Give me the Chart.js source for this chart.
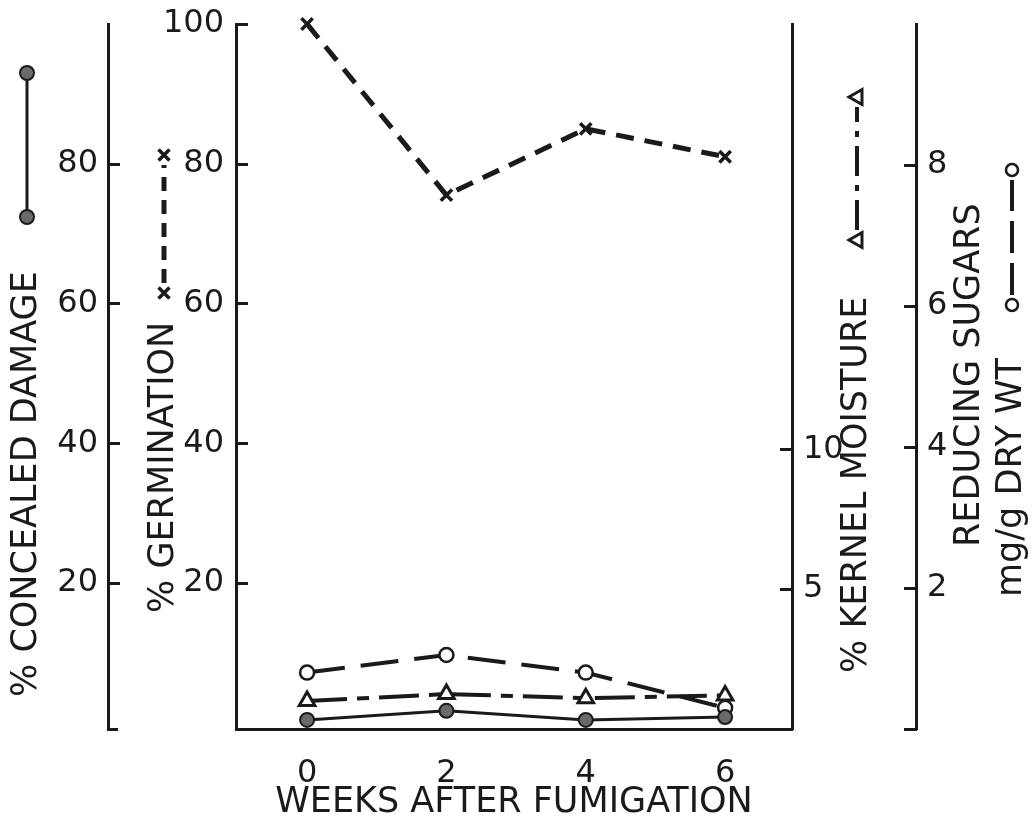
<!DOCTYPE html>
<html>
<head>
<meta charset="utf-8">
<script src="https://cdn.jsdelivr.net/npm/chart.js@4.4.1/dist/chart.umd.min.js"></script>
<style>
  html, body { margin: 0; padding: 0; background: #fff; }
  canvas { display: block; }
</style>
</head>
<body>
<canvas id="myChart" width="1032" height="819"></canvas>
<script>
// values
var weeks = [0, 2, 4, 6];
var damage = [0.4, 1.7, 0.4, 0.8];          // % concealed damage
var germination = [100, 75.5, 85, 81];      // % germination
var moisture = [1.0, 1.25, 1.1, 1.2];       // % kernel moisture
var sugars = [0.8, 1.05, 0.8, 0.3];         // reducing sugars mg/g dry wt

var damageTicks = [20, 40, 60, 80];
var germTicks = [20, 40, 60, 80, 100];
var moistTicks = [5, 10];
var sugarTicks = [2, 4, 6, 8];

var ink = '#1a1a1a';
var fam = '"DejaVu Sans", sans-serif';

function pts(vals) {
  return weeks.map(function (w, i) { return { x: w, y: vals[i] }; });
}

function yAxis(pos, weight, w, min, max, tickVals, pad) {
  return {
    type: 'linear',
    position: pos,
    weight: weight,
    min: min,
    max: max,
    afterBuildTicks: function (s) { s.ticks = tickVals.map(function (v) { return { value: v }; }); },
    afterFit: function (s) { s.width = w; s.paddingTop = 0; s.paddingBottom = 0; },
    grid: { display: false, drawTicks: false },
    border: { display: true, color: ink, width: 3 },
    ticks: { color: ink, padding: pad, font: { family: fam, size: 32 } }
  };
}

// rotated axis titles with their little key symbols
var titles = [
  { text: '% CONCEALED DAMAGE', x: 27, y: 697, mark: 'dot', from: 480, to: 624 },
  { text: '% GERMINATION', x: 164, y: 613, mark: 'x', from: 320, to: 458 },
  { text: '% KERNEL MOISTURE', x: 857, y: 673, mark: 'tri', from: 433, to: 576 },
  { text: 'REDUCING SUGARS', x: 970, y: 547 },
  { text: 'mg/g DRY WT', x: 1012, y: 597, mark: 'ring', from: 292, to: 427 }
];

function keyMark(ctx, kind, u) {
  ctx.setLineDash([]);
  ctx.beginPath();
  if (kind === 'dot') {
    ctx.lineWidth = 2;
    ctx.arc(u, 0, 7, 0, Math.PI * 2);
    ctx.fillStyle = '#6a6a6a';
    ctx.fill();
    ctx.stroke();
  } else if (kind === 'ring') {
    ctx.lineWidth = 2.5;
    ctx.arc(u, 0, 6, 0, Math.PI * 2);
    ctx.fillStyle = '#fff';
    ctx.fill();
    ctx.stroke();
  } else if (kind === 'x') {
    ctx.lineWidth = 3.5;
    ctx.moveTo(u - 5.5, -5.5); ctx.lineTo(u + 5.5, 5.5);
    ctx.moveTo(u - 5.5, 5.5); ctx.lineTo(u + 5.5, -5.5);
    ctx.stroke();
  } else if (kind === 'tri') {
    ctx.lineWidth = 3;
    ctx.moveTo(u, -8); ctx.lineTo(u + 7.5, 5); ctx.lineTo(u - 7.5, 5); ctx.closePath();
    ctx.fillStyle = '#fff';
    ctx.fill();
    ctx.stroke();
  }
}

var dashes = { dot: [], x: [14, 9], tri: [30, 9, 6, 9], ring: [32, 10] };
var widths = { dot: 3, x: 5, tri: 4, ring: 4 };

var decor = {
  id: 'decor',
  afterDraw: function (chart) {
    var ctx = chart.ctx, ca = chart.chartArea, sc = chart.scales;
    ctx.save();
    ctx.strokeStyle = ink;
    ctx.fillStyle = ink;
    ctx.lineWidth = 3;
    ctx.beginPath();
    // tick marks point inwards on every value axis
    ['yDamage', 'yGerm', 'yMoist', 'ySugar'].forEach(function (id) {
      var s = sc[id];
      var onLeft = s.options.position === 'left';
      var edge = onLeft ? s.right : s.left;
      var dir = onLeft ? 1 : -1;
      s.ticks.forEach(function (t) {
        var y = Math.round(s.getPixelForValue(t.value)) + 0.5;
        ctx.moveTo(edge, y);
        ctx.lineTo(edge + dir * 12, y);
      });
    });
    // little feet at the bottom of the outer axes
    ctx.moveTo(sc.yDamage.right - 1, ca.bottom + 0.5); ctx.lineTo(sc.yDamage.right + 10, ca.bottom + 0.5);
    ctx.moveTo(sc.ySugar.left - 12, ca.bottom + 0.5); ctx.lineTo(sc.ySugar.left + 1, ca.bottom + 0.5);
    ctx.stroke();

    titles.forEach(function (t) {
      ctx.save();
      ctx.translate(t.x, t.y);
      ctx.rotate(-Math.PI / 2);
      ctx.fillStyle = ink;
      ctx.font = '35px ' + fam;
      ctx.textAlign = 'left';
      ctx.textBaseline = 'middle';
      ctx.fillText(t.text, 0, 0);
      if (t.mark) {
        ctx.strokeStyle = ink;
        ctx.lineWidth = widths[t.mark];
        ctx.setLineDash(dashes[t.mark]);
        ctx.beginPath();
        if (t.mark === 'dot') {
          ctx.moveTo(t.from, 0); ctx.lineTo(t.to, 0);
        } else {
          ctx.moveTo(t.from + 10, 0); ctx.lineTo(t.to - 10, 0);
        }
        ctx.stroke();
        keyMark(ctx, t.mark, t.from);
        keyMark(ctx, t.mark, t.to);
      }
      ctx.restore();
    });
    ctx.restore();
  }
};

var ctx = document.getElementById('myChart');

var myChart = new Chart(ctx, {
  type: 'line',
  data: {
    datasets: [{
      label: '% concealed damage',
      data: pts(damage),
      yAxisID: 'yDamage',
      borderColor: ink,
      borderWidth: 3,
      pointStyle: 'circle',
      pointRadius: 7,
      pointBackgroundColor: '#6a6a6a',
      pointBorderColor: ink,
      pointBorderWidth: 2,
      clip: false
    }, {
      label: '% germination',
      data: pts(germination),
      yAxisID: 'yGerm',
      borderColor: ink,
      borderWidth: 5,
      borderDash: [18, 11],
      pointStyle: 'crossRot',
      pointRadius: 8,
      pointBorderColor: ink,
      pointBorderWidth: 3.5,
      clip: false
    }, {
      label: '% kernel moisture',
      data: pts(moisture),
      yAxisID: 'yMoist',
      borderColor: ink,
      borderWidth: 4,
      borderDash: [40, 10, 12, 10],
      pointStyle: 'triangle',
      pointRadius: 9,
      pointBackgroundColor: '#fff',
      pointBorderColor: ink,
      pointBorderWidth: 3,
      clip: false
    }, {
      label: 'reducing sugars',
      data: pts(sugars),
      yAxisID: 'ySugar',
      borderColor: ink,
      borderWidth: 4,
      borderDash: [38, 16],
      pointStyle: 'circle',
      pointRadius: 7,
      pointBackgroundColor: '#fff',
      pointBorderColor: ink,
      pointBorderWidth: 2.5,
      clip: false
    }]
  },
  options: {
    responsive: false,
    animation: false,
    layout: { padding: { top: 24, left: 0, right: 0, bottom: 0 } },
    plugins: { legend: { display: false }, tooltip: { enabled: false } },
    scales: {
      x: {
        type: 'linear',
        position: 'bottom',
        min: -1.02,
        max: 6.96,
        afterBuildTicks: function (s) { s.ticks = weeks.map(function (v) { return { value: v }; }); },
        afterFit: function (s) { s.height = 90; s.paddingLeft = 0; s.paddingRight = 0; },
        grid: { display: false, drawTicks: false },
        border: { display: true, color: ink, width: 3 },
        ticks: { color: ink, padding: 25, font: { family: fam, size: 32 } },
        title: {
          display: true,
          text: 'WEEKS AFTER FUMIGATION',
          color: ink,
          padding: 0,
          font: { family: fam, size: 35, lineHeight: 0.9 }
        }
      },
      yDamage: yAxis('left', 2, 108, -0.9, 100, damageTicks, 10),
      yGerm: yAxis('left', 1, 128, -0.9, 100, germTicks, 12),
      yMoist: yAxis('right', 1, 124, 0, 25.2, moistTicks, 11),
      ySugar: yAxis('right', 2, 116, 0, 10, sugarTicks, 11)
    }
  },
  plugins: [decor]
});
</script>
</body>
</html>
